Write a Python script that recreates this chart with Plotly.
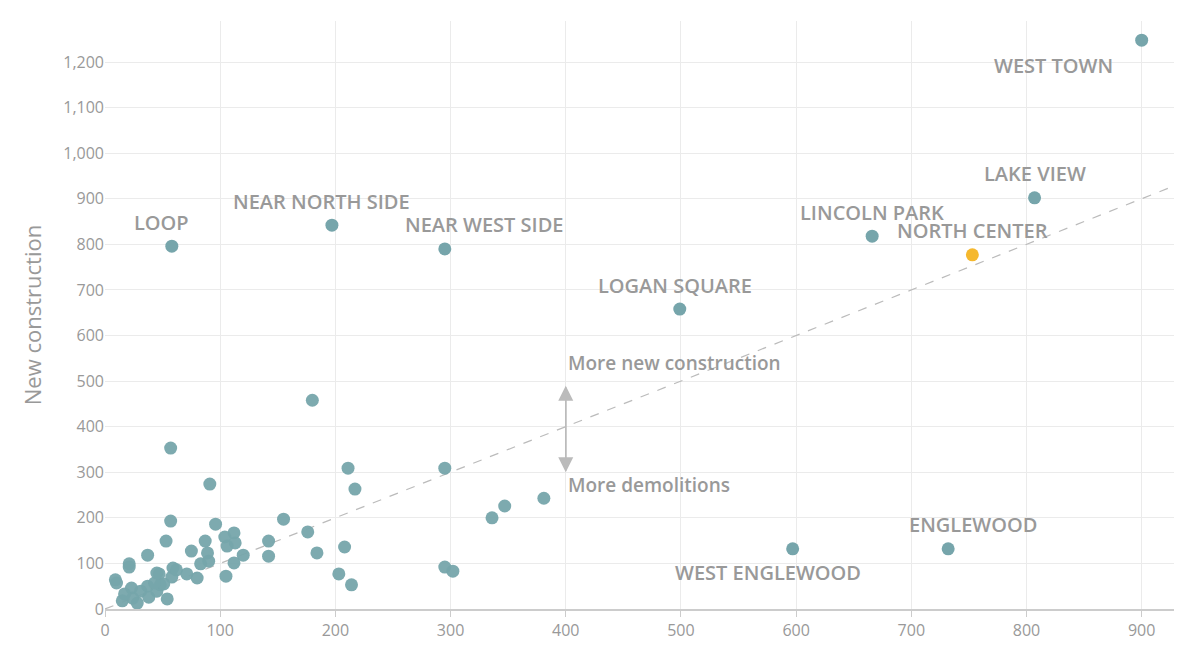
import plotly.graph_objects as go

names = ["WEST TOWN","LAKE VIEW","LINCOLN PARK","NORTH CENTER","LOGAN SQUARE","NEAR WEST SIDE","NEAR NORTH SIDE","LOOP","ENGLEWOOD","WEST ENGLEWOOD"]
demolitions = [900,807,666,753,499,295,197,58,732,597]
construction = [1248,902,818,777,658,790,842,796,132,132]

other_x = [57,180,295,211,217,91,381,347,336,155,57,96,112,104,176,142,113,87,53,106,120,75,142,37,89,90,112,83,208,184,295,302,203,214,105,80,71,58,47,48,59,62,21,21,9,10,37,23,54,15,28,24,31,38,45,51,43,17,45]
other_y = [353,458,309,309,263,274,243,226,200,197,193,186,167,158,169,149,145,149,149,138,118,127,116,118,123,105,101,99,136,123,92,83,77,53,72,68,77,70,77,53,90,86,99,92,64,57,50,46,22,18,13,24,39,26,39,55,57,33,79]

teal = "#76a5ab"
fig = go.Figure()
fig.add_trace(go.Scatter(x=[0, 935], y=[0, 935], mode="lines",
                         line=dict(color="#bbbbbb", width=1.2, dash="dash"), hoverinfo="skip"))
fig.add_trace(go.Scatter(x=other_x, y=other_y, mode="markers",
                         marker=dict(color=teal, size=13, opacity=0.95)))
cols = ["#f5b82e" if n == "NORTH CENTER" else teal for n in names]
fig.add_trace(go.Scatter(x=demolitions, y=construction, mode="markers",
                         marker=dict(color=cols, size=13)))

label_pos = {
    "WEST TOWN": (-88, -25), "LAKE VIEW": (0, 24), "LINCOLN PARK": (0, 24),
    "NORTH CENTER": (0, 24), "LOGAN SQUARE": (-5, 24), "NEAR WEST SIDE": (40, 24),
    "NEAR NORTH SIDE": (-10, 24), "LOOP": (-10, 24), "ENGLEWOOD": (25, 24),
    "WEST ENGLEWOOD": (-25, -24),
}
lab_font = dict(size=20, color="#999999", family="Open Sans", weight=600)
for n, x, y in zip(names, demolitions, construction):
    dx, dy = label_pos[n]
    fig.add_annotation(x=x, y=y, text=n, showarrow=False, xshift=dx, yshift=dy, font=lab_font)

fig.add_annotation(x=400, y=490, ax=400, ay=300, xref="x", yref="y", axref="x", ayref="y",
                   showarrow=True, arrowhead=2, arrowsize=2, arrowwidth=1.5, arrowcolor="#bbbbbb", text="")
fig.add_annotation(x=400, y=300, ax=400, ay=490, xref="x", yref="y", axref="x", ayref="y",
                   showarrow=True, arrowhead=2, arrowsize=2, arrowwidth=1.5, arrowcolor="#bbbbbb", text="")
fig.add_annotation(x=400, y=540, text="More new construction", showarrow=False, xanchor="left",
                   font=dict(size=19, color="#999999", family="Open Sans", weight=600))
fig.add_annotation(x=400, y=272, text="More demolitions", showarrow=False, xanchor="left",
                   font=dict(size=19, color="#999999", family="Open Sans", weight=600))

fig.update_layout(
    width=1182, height=660, showlegend=False, plot_bgcolor="white", paper_bgcolor="white",
    margin=dict(l=97, r=8, t=13, b=59),
    font=dict(family="Open Sans", color="#999999", size=15),
    xaxis=dict(range=[0, 935], tickvals=list(range(0, 1000, 100)), gridcolor="#ebebeb",
               showline=True, linecolor="#cccccc", linewidth=2, ticks="outside", ticklen=6,
               tickcolor="#cccccc", zeroline=False, tickfont=dict(size=16), automargin=False),
    yaxis=dict(range=[0, 1290], tickvals=list(range(0, 1300, 100)), tickformat=",",
               gridcolor="#ebebeb", zeroline=False, showline=False, automargin=False,
               title=dict(text="New construction", font=dict(size=22, color="#999999")),
               tickfont=dict(size=16)),
)
fig.write_html("out.html")
